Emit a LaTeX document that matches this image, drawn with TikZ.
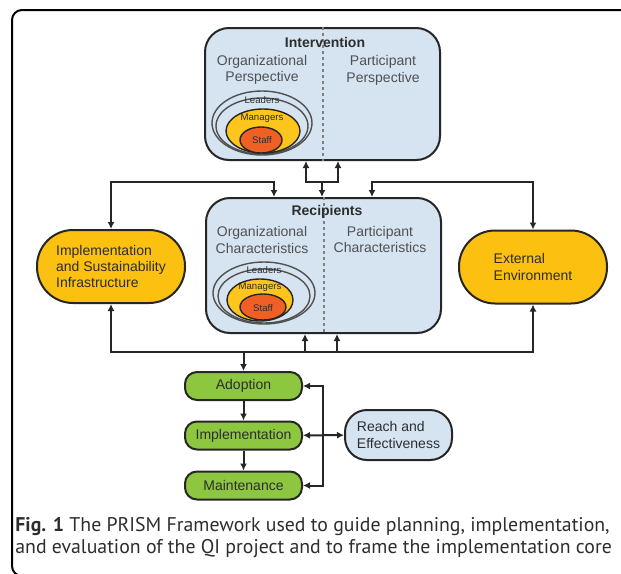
\documentclass[tikz,border=0pt]{standalone}
\usepackage{fontspec}
\setmainfont{Liberation Sans}
\newfontfamily\capfont{PT Sans}
\usetikzlibrary{arrows.meta}

\definecolor{boxblue}{RGB}{214,228,242}
\definecolor{pillyellow}{RGB}{252,192,16}
\definecolor{mgryellow}{RGB}{254,198,28}
\definecolor{stafforange}{RGB}{240,96,36}
\definecolor{stagegreen}{RGB}{141,198,63}
\definecolor{linegray}{RGB}{38,38,38}
\definecolor{textgray}{RGB}{80,80,80}
\definecolor{darktext}{RGB}{45,45,45}

\begin{document}
\begin{tikzpicture}[x=0.5pt, y=-0.5pt,
  >={Latex[length=3.5pt,width=3.5pt]},
  lbl/.style={font=\fontsize{7}{8.2}\selectfont, text=darktext},
  head/.style={font=\bfseries\fontsize{7}{8.2}\selectfont, text=darktext},
  side/.style={lbl, text=textgray, align=center},
  tiny/.style={font=\fontsize{4.8}{5}\selectfont, text=darktext},
  panel/.style={draw=linegray, line width=1pt, fill=boxblue, rounded corners=12pt,
    minimum width=117.5pt, inner sep=0pt},
  pill/.style={draw=linegray, line width=1pt, fill=pillyellow, rounded corners=18pt,
    minimum width=74pt, minimum height=36.5pt, inner sep=0pt, align=left, lbl},
  stage/.style={draw=linegray, line width=1pt, fill=stagegreen, rounded corners=6pt,
    minimum width=58.5pt, minimum height=14pt, inner sep=0pt, lbl},
  reachbox/.style={draw=linegray, line width=1pt, fill=boxblue, rounded corners=11pt,
    minimum width=53.5pt, minimum height=25pt, inner sep=0pt, align=left, lbl},
  ring/.style={draw=textgray, line width=0.7pt},
  conn/.style={draw=linegray, line width=1pt},
  divider/.style={draw=gray, line width=1pt, dash pattern=on 1.5pt off 1.5pt},
  caption/.style={anchor=west, inner sep=0pt, text=darktext, font=\capfont\fontsize{9.9}{11}\selectfont}
]
  \useasboundingbox (0,0) rectangle (621,573);

  % Frame
  \draw[line width=1pt, rounded corners=5pt] (660,10) -- (12,10) -- (12,576) -- (660,576);

  % Nodes
  \node[panel, minimum height=66pt] (intv) at (322.5,94) {};
  \node[panel, minimum height=67.5pt] (recip) at (323.5,265.5) {};
  \draw[divider] (intv.north) -- (intv.south);
  \draw[divider] (recip.north) -- (recip.south);

  \node[head] (intvhead) at (325,42) {Intervention};
  \node[side] (orgpersp) at (262,70) {Organizational\\Perspective};
  \node[side] (partpersp) at (383,70.5) {Participant\\Perspective};

  \node[head] (reciphead) at (327,212) {Recipients};
  \node[side] (orgchar) at (262,240) {Organizational\\Characteristics};
  \node[side] (partchar) at (380,239.5) {Participant\\Characteristics};

  % Nested circles
  \draw[ring] (262,123) ellipse [x radius=25pt, y radius=16pt];
  \draw[ring] (262,126) ellipse [x radius=23pt, y radius=14pt];
  \draw[ring, draw=linegray, fill=mgryellow] (263,131) ellipse [x radius=18.5pt, y radius=11pt];
  \draw[ring, draw=linegray, fill=stafforange] (261,140) ellipse [x radius=10.5pt, y radius=6.5pt];
  \node[tiny] (intvlead) at (262,100) {Leaders};
  \node[tiny] (intvmgr) at (262,118) {Managers};
  \node[tiny] (intvstaff) at (262,140) {Staff};

  \draw[ring] (264,293) ellipse [x radius=25.5pt, y radius=15.5pt];
  \draw[ring] (264,296) ellipse [x radius=23pt, y radius=13.5pt];
  \draw[ring, draw=linegray, fill=mgryellow] (260,300) ellipse [x radius=16.5pt, y radius=10.5pt];
  \draw[ring, draw=linegray, fill=stafforange] (263,307) ellipse [x radius=11.5pt, y radius=6.5pt];
  \node[tiny] (reciplead) at (264,270) {Leaders};
  \node[tiny] (recipmgr) at (260,287) {Managers};
  \node[tiny] (recipstaff) at (263,308) {Staff};

  \node[pill] (infra) at (111,266.5) {Implementation\\and Sustainability\\Infrastructure};
  \node[pill] (extenv) at (533,267) {External\\Environment};

  \node[stage] (adopt) at (243.5,386) {Adoption};
  \node[stage] (implem) at (243.5,435.5) {Implementation};
  \node[stage] (maint) at (243.5,485.5) {Maintenance};
  \node[reachbox] (reach) at (398.5,435) {Reach and\\Effectiveness};

  \node[caption] (capone) at (15,527) {\textbf{Fig. 1} The PRISM Framework used to guide planning, implementation,};
  \node[caption] (captwo) at (15,549) {and evaluation of the QI project and to frame the implementation core};

  % Junctions
  \coordinate (topl) at (274,182);
  \coordinate (topr) at (372,182);
  \coordinate (fork) at (322,182);
  \coordinate (forkl) at (306,182);
  \coordinate (forkr) at (338,182);
  \coordinate (botl) at (305,352);
  \coordinate (botr) at (337,352);
  \coordinate (bot) at (110,352);
  \coordinate (rail) at (323,435.5);

  % Edges
  \draw[conn, <->] (infra.north) |- (topl) -- (topl |- recip.north);
  \draw[conn, <->] (extenv.north) |- (topr) -- (topr |- recip.north);
  \draw[conn, <->] (forkl |- intv.south) -- (forkl) -- (forkr) -- (forkr |- intv.south);
  \draw[conn, ->] (fork) -- (fork |- recip.north);

  \draw[conn, <->] (infra.south) -- (infra.south |- bot) -- (extenv.south |- bot) -- (extenv.south);
  \draw[conn, ->] (botl) -- (botl |- recip.south);
  \draw[conn, ->] (botr) -- (botr |- recip.south);
  \draw[conn, ->] (adopt.north |- bot) -- (adopt.north);

  \draw[conn, ->] (adopt) -- (implem);
  \draw[conn, ->] (implem) -- (maint);
  \draw[conn, <->] (adopt.east) -- (adopt.east -| rail) -- (maint.east -| rail) -- (maint.east);
  \draw[conn, <->] (implem) -- (reach);
\end{tikzpicture}
\end{document}
